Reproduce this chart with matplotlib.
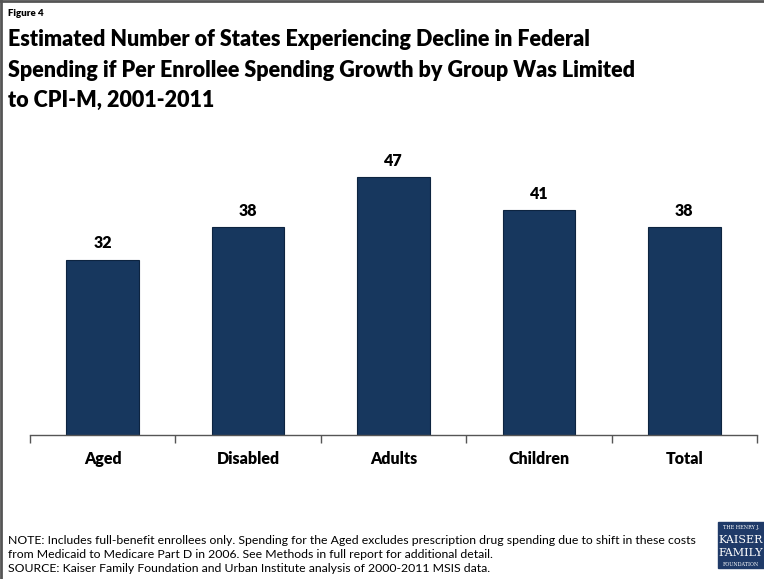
import matplotlib
matplotlib.use("Agg")
import matplotlib.pyplot as plt
from matplotlib.patches import Rectangle
from matplotlib.lines import Line2D

plt.rcParams["font.family"] = ["Lato", "DejaVu Sans"]

groups = ["Aged", "Disabled", "Adults", "Children", "Total"]
states = [32, 38, 47, 41, 38]

title = ("Estimated Number of States Experiencing Decline in Federal\n"
         "Spending if Per Enrollee Spending Growth by Group Was Limited\n"
         "to CPI-M, 2001-2011")
note = ("NOTE: Includes full-benefit enrollees only. Spending for the Aged excludes prescription drug spending due to shift in these costs\n"
        "from Medicaid to Medicare Part D in 2006. See Methods in full report for additional detail.\n"
        "SOURCE: Kaiser Family Foundation and Urban Institute analysis of 2000-2011 MSIS data.")

bar_color = "#17375e"

fig = plt.figure(figsize=(7.64, 5.79), dpi=100)
W, H = 764, 579

# plot area: baseline at y=435px, x from 30 to 757
ax = fig.add_axes([30 / W, 1 - 435 / H, 727 / W, (435 - 161) / H])
x = range(len(groups))
ax.bar(x, states, width=0.5, color=bar_color, edgecolor="#0d2440", linewidth=0.8)
for i, v in zip(x, states):
    ax.text(i, v + 1.5, str(v), ha="center", va="bottom",
            fontsize=11.5, fontweight="heavy", color="#000000")

ax.set_xlim(-0.5, len(groups) - 0.5)
ax.set_ylim(0, 50)
ax.set_yticks([])
for s in ["top", "right", "left"]:
    ax.spines[s].set_visible(False)
ax.spines["bottom"].set_color("#555555")
ax.spines["bottom"].set_linewidth(1.0)

# tick marks between categories
ax.set_xticks([i - 0.5 for i in range(len(groups) + 1)])
ax.set_xticklabels([])
ax.tick_params(axis="x", direction="out", length=6, width=1.0, color="#555555")
for i, g in enumerate(groups):
    ax.text(i, -4.3, g, ha="center", va="center", fontsize=11.5,
            fontweight="heavy", transform=ax.transData)

# header text
fig.text(8 / W, 1 - 14 / H, "Figure 4", fontsize=7, fontweight="heavy", va="center")
fig.text(8 / W, 1 - 29 / H, title, fontsize=15.5, fontweight="heavy",
         va="top", ha="left", linespacing=1.57)

fig.text(8 / W, 1 - 535 / H, note, fontsize=8.8, va="top", ha="left",
         linespacing=1.32)

# logo box
fig.patches.append(Rectangle((718 / W, 1 - 568 / H), 46 / W, 46 / H,
                             transform=fig.transFigure, color="#1f3a68"))
fig.text(741 / W, 1 - 527 / H, "THE HENRY J.", fontsize=3.5, color="white",
         family="DejaVu Serif", ha="center", va="center")
fig.text(741 / W, 1 - 540 / H, "KAISER", fontsize=8, color="white",
         family="DejaVu Serif", ha="center", va="center")
fig.text(741 / W, 1 - 553 / H, "FAMILY", fontsize=8, color="white",
         family="DejaVu Serif", ha="center", va="center")
fig.text(741 / W, 1 - 564 / H, "FOUNDATION", fontsize=3.5, color="white",
         family="DejaVu Serif", ha="center", va="center")

# frame on top and left
fig.lines.append(Line2D([0, 1], [1 - 1 / H, 1 - 1 / H], transform=fig.transFigure,
                        color="#555555", linewidth=2))
fig.lines.append(Line2D([1 / W, 1 / W], [0, 1], transform=fig.transFigure,
                        color="#555555", linewidth=2))

fig.savefig("out.png", dpi=100)
